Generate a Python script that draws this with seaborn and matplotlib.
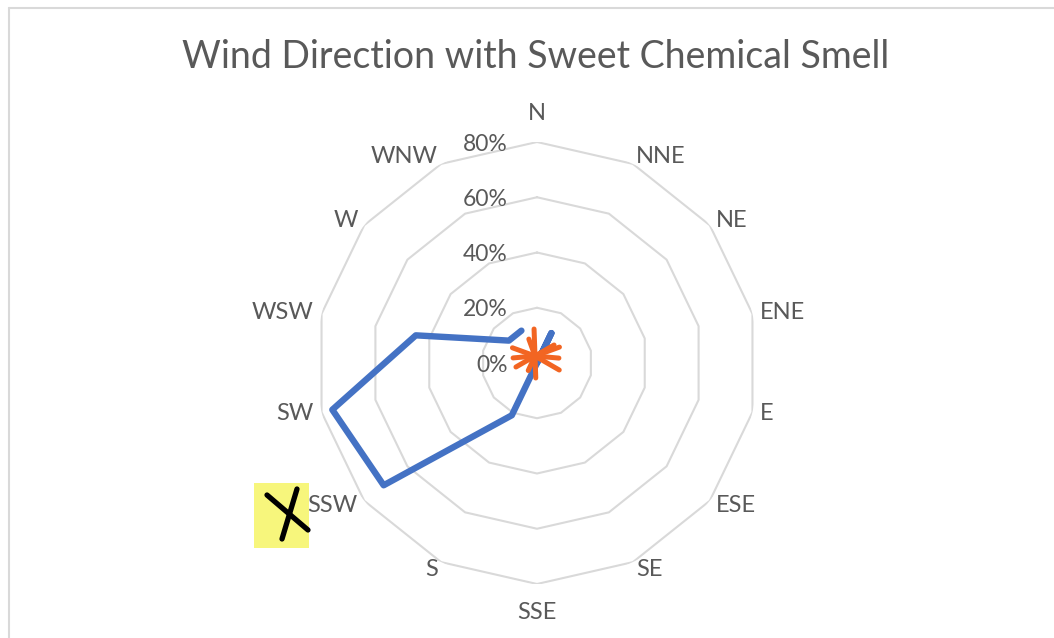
import numpy as np
import pandas as pd
import matplotlib.pyplot as plt
from matplotlib.lines import Line2D
from matplotlib.patches import Rectangle
import seaborn as sns

# --- data ---
directions = ["N", "NNE", "NE", "ENE", "E", "ESE", "SE", "SSE",
              "S", "SSW", "SW", "WSW", "W", "WNW"]
sweet_smell_pct = [0, 12, 0, 0, 0, 0, 0, 0, 21, 71, 76, 45, 13, 13]
ring_levels = [0, 20, 40, 60, 80]
ring_labels = ["0%", "20%", "40%", "60%", "80%"]
title = "Wind Direction with Sweet Chemical Smell"

sns.set_style("white")
plt.rcParams['font.family'] = ['Lato', 'DejaVu Sans']

W, H = 1054, 638
fig = plt.figure(figsize=(W / 100, H / 100), dpi=100)
fig.patch.set_facecolor("white")


def fx(x):
    return x / W


def fy(y):
    return 1 - y / H


# --- chart frame (only top and left edges are visible in the screenshot) ---
fig.add_artist(Line2D([fx(9), 1], [fy(8), fy(8)], transform=fig.transFigure, color="#D9D9D9", lw=1.5))
fig.add_artist(Line2D([fx(9), fx(9)], [fy(8), 0], transform=fig.transFigure, color="#D9D9D9", lw=1.5))

fig.text(fx(536), fy(57), title, ha="center", va="center", fontsize=27, color="#595959")

# --- radar axes ---
cx, cy, R = 537, 363, 221
ax = fig.add_axes([fx(cx - R), fy(cy + R), 2 * R / W, 2 * R / H], projection="polar")
ax.set_theta_zero_location("N")
ax.set_theta_direction(-1)
ax.set_ylim(0, 80)
ax.grid(False)
ax.spines["polar"].set_visible(False)
ax.set_xticks([])
ax.set_yticks([])
ax.patch.set_alpha(0)

n = len(directions)
theta = np.arange(n) * 2 * np.pi / n
theta_closed = np.append(theta, theta[0])

# polygon gridlines
for lvl in ring_levels[1:]:
    ax.plot(theta_closed, [lvl] * (n + 1), color="#D9D9D9", lw=1.5, zorder=1)

# series
df = pd.DataFrame({"theta": theta_closed,
                   "pct": sweet_smell_pct + [sweet_smell_pct[0]]})
sns.lineplot(data=df, x="theta", y="pct", sort=False, ax=ax, color="#4472C4",
             lw=4.6, solid_joinstyle="round", solid_capstyle="round", zorder=3)
ax.set_xlabel("")
ax.set_ylabel("")

# category labels, anchored just outside each outer vertex (Excel style)
for t, lab in zip(theta, directions):
    s, c = np.sin(t), np.cos(t)
    if abs(s) < 0.1:
        ha, va, gap = "center", ("bottom" if c > 0 else "top"), 18
    else:
        ha, va, gap = ("left" if s > 0 else "right"), "center", 8
    ax.annotate(lab, xy=(t, 80), xytext=(gap * s * 0.72, gap * c * 0.72),
                textcoords="offset points", ha=ha, va=va, fontsize=17,
                color="#595959", annotation_clip=False)

# value labels along the N axis
for lvl, lab in zip(ring_levels, ring_labels):
    ax.annotate(lab, xy=(0, lvl), xytext=(-21, -1.5), textcoords="offset points",
                ha="right", va="center", fontsize=16.5, color="#595959", annotation_clip=False)

# --- hand-drawn marks that sit on the screenshot ---
# orange asterisk near the centre
star_c = (535, 356)
strokes = [(-92, 27), (88, 22), (30, 28), (5, 24), (-20, 26), (150, 22),
           (200, 24), (175, 22), (250, 18), (115, 16), (330, 22)]
for ang, ln in strokes:
    a = np.deg2rad(ang)
    x2 = star_c[0] + ln * np.cos(a)
    y2 = star_c[1] + ln * np.sin(a)
    fig.add_artist(Line2D([fx(star_c[0]), fx(x2)], [fy(star_c[1]), fy(y2)],
                          transform=fig.transFigure, color="#F26522", lw=3.6,
                          solid_capstyle="round", zorder=10))

# yellow highlight with a black X next to SSW
fig.add_artist(Rectangle((fx(254), fy(548)), (309 - 254) / W, (548 - 483) / H,
                         transform=fig.transFigure, facecolor="#F7F56E", edgecolor="none",
                         alpha=0.9, zorder=9))
fig.add_artist(Line2D([fx(267), fx(308)], [fy(495), fy(530)], transform=fig.transFigure,
                      color="black", lw=3.8, solid_capstyle="round", zorder=10))
fig.add_artist(Line2D([fx(297), fx(282)], [fy(489), fy(539)], transform=fig.transFigure,
                      color="black", lw=3.8, solid_capstyle="round", zorder=10))

fig.savefig("out.png", dpi=100)
